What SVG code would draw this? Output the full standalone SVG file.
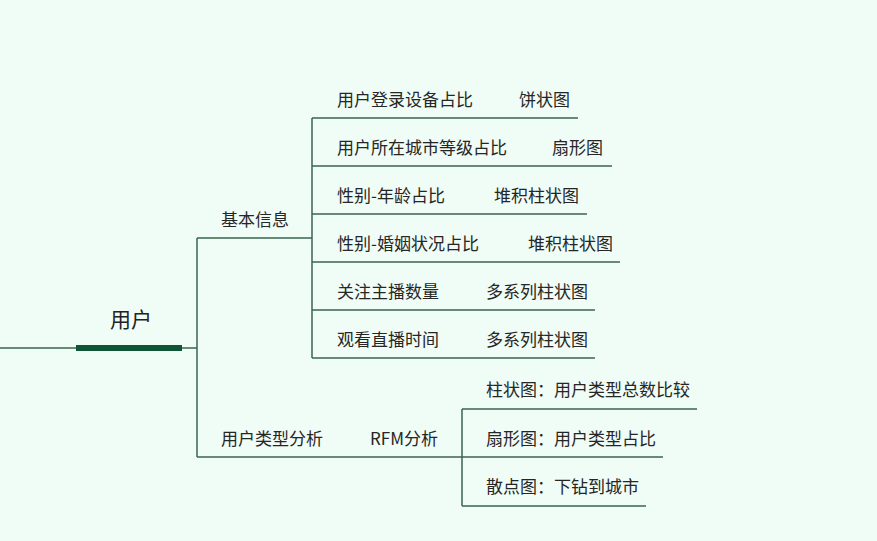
<svg xmlns="http://www.w3.org/2000/svg" width="877" height="541" viewBox="0 0 877 541">
<style>
.ln{stroke:#3b6650;stroke-width:1.5;fill:none}
.t{font-family:"Noto Sans CJK SC","Noto Sans",sans-serif;font-size:17px;fill:#262626}
.root{font-family:"Noto Sans CJK SC","Noto Sans",sans-serif;font-size:21px;fill:#222}
</style>
<rect width="877" height="541" fill="#f0fcf6"/>
<g id="connectors">
<path class="ln" d="M0 348H197M197 238V457M197 238H312M197 457H462M312 118V358M462 409V506"/>
<path class="ln" d="M312 118H578M312 166H612M312 214H587M312 262H620M312 310H595M312 358H595"/>
<path class="ln" d="M462 409H697M462 457H663M462 506H646"/>
</g>
<g id="root">
<rect x="76" y="345" width="106" height="6" fill="#0f5535"/>
<text class="root" x="131" y="327" text-anchor="middle">用户</text>
</g>
<g id="basic"><text class="t" x="221" y="226">基本信息</text></g>
<g id="usertype"><text class="t" x="221" y="445">用户类型分析</text><text class="t" x="370" y="445">RFM分析</text></g>
<g id="n1"><text class="t" x="337" y="106">用户登录设备占比</text><text class="t" x="519" y="106">饼状图</text></g>
<g id="n2"><text class="t" x="337" y="154">用户所在城市等级占比</text><text class="t" x="552" y="154">扇形图</text></g>
<g id="n3"><text class="t" x="337" y="202">性别-年龄占比</text><text class="t" x="494" y="202">堆积柱状图</text></g>
<g id="n4"><text class="t" x="337" y="250">性别-婚姻状况占比</text><text class="t" x="528" y="250">堆积柱状图</text></g>
<g id="n5"><text class="t" x="337" y="298">关注主播数量</text><text class="t" x="486" y="298">多系列柱状图</text></g>
<g id="n6"><text class="t" x="337" y="346">观看直播时间</text><text class="t" x="486" y="346">多系列柱状图</text></g>
<g id="r1"><text class="t" x="486" y="396">柱状图：用户类型总数比较</text></g>
<g id="r2"><text class="t" x="486" y="445">扇形图：用户类型占比</text></g>
<g id="r3"><text class="t" x="486" y="493">散点图：下钻到城市</text></g>
</svg>
